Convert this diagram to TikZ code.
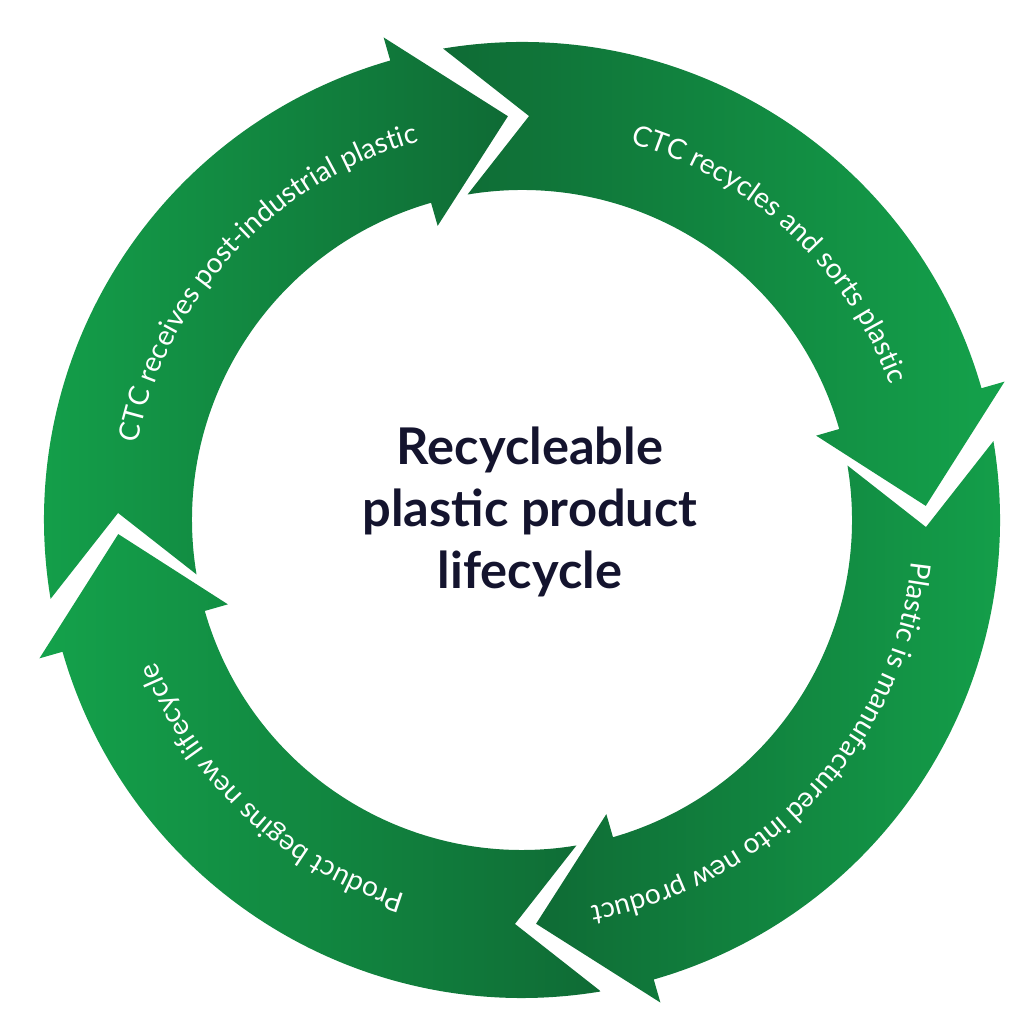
\documentclass[tikz,border=0pt]{standalone}
\usepackage{fontspec}
\setmainfont{Lato}
\usetikzlibrary{decorations.text}
\definecolor{gdark}{HTML}{0F6B35}
\definecolor{glight}{HTML}{14A24B}
\definecolor{navy}{HTML}{14142E}
\newcommand{\arrowk}[3]{%
  % #1 tip angle, #2 left colour, #3 right colour
  \pgfmathsetmacro{\tb}{#1+14}
  \pgfmathsetmacro{\T}{#1+97.5}
  \pgfmathsetmacro{\Tm}{#1+87}
  \shade[left color=#2, right color=#3]
   (\T:478) arc[start angle=\T, end angle=\tb, radius=478]
   -- (\tb:502) -- (#1:404) -- (\tb:306) -- (\tb:330)
   arc[start angle=\tb, end angle=\T, radius=330] -- (\Tm:404) -- cycle;
}
\tikzset{arclabel/.style={decorate, decoration={text along path, text align=center, text color=white, text={|\fontsize{20pt}{22pt}\selectfont|#1}}}}
\begin{document}
\begin{tikzpicture}[x=0.25mm,y=0.25mm]
\useasboundingbox (0,0) rectangle (1024,1024);
\begin{scope}[shift={(522,504)}]
\arrowk{92}{glight}{gdark}
\arrowk{2}{gdark}{glight}
\arrowk{-88}{gdark}{glight}
\arrowk{-178}{glight}{gdark}
\path[arclabel={CTC receives post-industrial plastic}] (182:392) arc[start angle=182, end angle=92, radius=392];
\path[arclabel={CTC recycles and sorts plastic}] (92:392) arc[start angle=92, end angle=2, radius=392];
\path[arclabel={Plastic is manufactured into new product}] (2:392) arc[start angle=2, end angle=-88, radius=392];
\path[arclabel={Product begins new lifecycle}] (-88:392) arc[start angle=-88, end angle=-178, radius=392];
\node[text=navy, font=\bfseries\fontsize{36pt}{44pt}\selectfont, align=center] (title) at (8,8) {Recycleable\\plastic product\\lifecycle};
\end{scope}
\end{tikzpicture}
\end{document}
